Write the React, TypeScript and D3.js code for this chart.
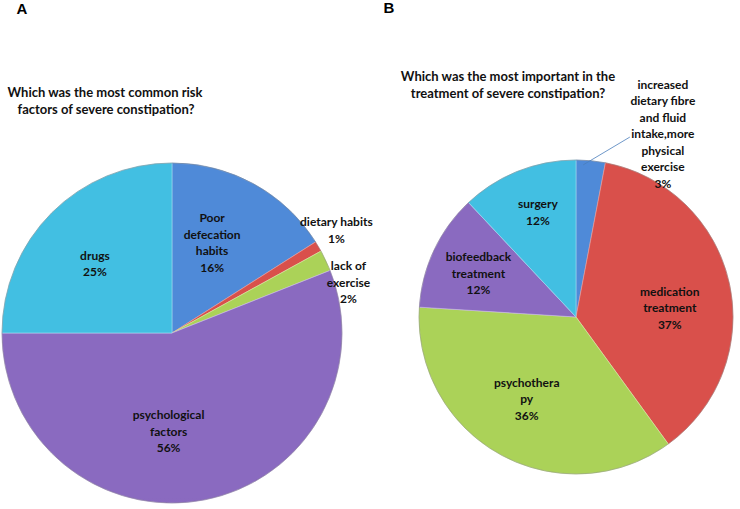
import React from "react";
import * as d3 from "d3";

// Panel A data
const riskCategories = ["Poor\ndefecation\nhabits", "dietary habits", "lack of\nexercise", "psychological\nfactors", "drugs"];
const riskValues = [16, 1, 2, 56, 25];
const riskColors = ["blue", "red", "green", "purple", "cyan"];

// Panel B data
const treatCategories = [
  "increased\ndietary fibre\nand fluid\nintake,more\nphysical\nexercise",
  "medication\ntreatment",
  "psychothera\npy",
  "biofeedback\ntreatment",
  "surgery",
];
const treatValues = [3, 37, 36, 12, 12];
const treatColors = ["blue", "red", "green", "purple", "cyan"];

const palette: Record<string, [string, string, string]> = {
  blue: ["#4f8ad8", "#3a6bb0", "#8fb3e6"],
  red: ["#d9504b", "#b03530", "#ec9a96"],
  green: ["#abd258", "#86ad3a", "#d4eca4"],
  purple: ["#8a6ac0", "#74519f", "#c6b2ea"],
  cyan: ["#42bfe2", "#2ea0c0", "#9edcf0"],
};

const FONT = "Lato, 'DejaVu Sans Condensed', sans-serif";

type LabelCfg = { r?: number; angle?: number; leader?: boolean };

function Pie({
  id, cx, cy, r, values, labels, colors, cfg,
}: {
  id: string; cx: number; cy: number; r: number; values: number[]; labels: string[]; colors: string[];
  cfg: LabelCfg[];
}) {
  const pie = d3.pie<number>().sort(null).value((d) => d);
  const arcs = pie(values);
  const arc = d3.arc<d3.PieArcDatum<number>>().innerRadius(0).outerRadius(r);
  const lineH = 16.5;
  return (
    <g>
      <defs>
        {Object.keys(palette).map((k) => (
          <linearGradient key={k} id={`${id}-${k}`} gradientUnits="userSpaceOnUse" x1={0} y1={cy - r} x2={0} y2={cy + r}>
            <stop offset="0" stopColor={palette[k][0]} />
            <stop offset="1" stopColor={palette[k][1]} />
          </linearGradient>
        ))}
      </defs>
      <g transform={`translate(${cx},${cy})`}>
        {arcs.map((a, i) => (
          <path key={i} d={arc(a) || ""} fill={`url(#${id}-${colors[i]})`} stroke={palette[colors[i]][2]} strokeWidth={0.8} strokeOpacity={0.8} />
        ))}
        <circle r={r} fill="none" stroke="#555" strokeOpacity={0.35} strokeWidth={1} />
        {arcs.map((a, i) => {
          const c = cfg[i] || {};
          const mid = (a.startAngle + a.endAngle) / 2;
          const ang = c.angle !== undefined ? (c.angle * Math.PI) / 180 : mid;
          const rr = (c.r ?? 0.62) * r;
          const x = Math.sin(ang) * rr;
          const y = -Math.cos(ang) * rr;
          const lines = labels[i].split("\n").concat([`${values[i]}%`]);
          const y0 = y - ((lines.length - 1) * lineH) / 2;
          let leader = null;
          if (c.leader) {
            const pr = r * 0.97;
            const pa = mid * 0.5;
            const px = Math.sin(pa) * pr;
            const py = -Math.cos(pa) * pr;
            const lx = x - 33;
            const ly = y0 + 3 * lineH + 3;
            leader = <line x1={px} y1={py} x2={lx} y2={ly} stroke="#4a7ebb" strokeWidth={0.8} />;
          }
          return (
            <g key={"l" + i}>
              {leader}
              <text textAnchor="middle" fontFamily={FONT} fontWeight="bold" fontSize={12} fill="#111">
                {lines.map((t, j) => (
                  <tspan key={j} x={x} y={y0 + j * lineH} dy="0.35em">{t}</tspan>
                ))}
              </text>
            </g>
          );
        })}
      </g>
    </g>
  );
}

export default function App() {
  return (
    <svg width={740} height={509} style={{ position: "absolute", left: 0, top: 0, background: "#fff" }}>
      <text x={22} y={14} fontFamily="'Liberation Sans', Arial, sans-serif" fontWeight="bold" fontSize={15} textAnchor="middle">A</text>
      <text x={389} y={13} fontFamily="'Liberation Sans', Arial, sans-serif" fontWeight="bold" fontSize={15} textAnchor="middle">B</text>
      <text textAnchor="middle" fontFamily={FONT} fontWeight="bold" fontSize={13} fill="#111">
        <tspan x={105} y={92} dy="0.35em">Which was the most common risk</tspan>
        <tspan x={106} y={109} dy="0.35em">factors of severe constipation?</tspan>
      </text>
      <text textAnchor="middle" fontFamily={FONT} fontWeight="bold" fontSize={13} fill="#111">
        <tspan x={508} y={76} dy="0.35em">Which was the most important in the</tspan>
        <tspan x={508} y={93} dy="0.35em">treatment of severe constipation?</tspan>
      </text>
      <Pie
        id="pa" cx={172} cy={333} r={170}
        values={riskValues} labels={riskCategories} colors={riskColors}
        cfg={[{ r: 0.58, angle: 24 }, { r: 1.14, angle: 58 }, { r: 1.08, angle: 74 }, { r: 0.58, angle: 182 }, { r: 0.61, angle: 312 }]}
      />
      <Pie
        id="pb" cx={576} cy={317} r={157}
        values={treatValues} labels={treatCategories} colors={treatColors}
        cfg={[{ r: 1.29, angle: 25.4, leader: true }, { r: 0.6, angle: 84.5 }, { r: 0.61, angle: 211 }, { r: 0.68, angle: 294 }, { r: 0.71, angle: 340 }]}
      />
    </svg>
  );
}
